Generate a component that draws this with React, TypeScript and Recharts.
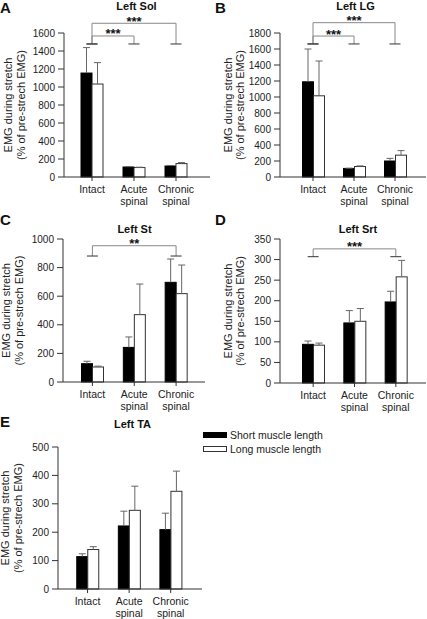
import React from "react";
import { BarChart, Bar, XAxis, YAxis, ReferenceLine, Label, Legend } from "recharts";

const FONT = "'Liberation Sans', Arial, sans-serif";

const categories = ["Intact", "Acute spinal", "Chronic spinal"];
const seriesOrder = ["short", "long"];

// Left Sol
const solShort = [1155, 111, 122];
const solShortSem = [283, 4, 6];
const solLong = [1033, 105, 149];
const solLongSem = [238, 4, 11];
const solTicks = [0, 200, 400, 600, 800, 1000, 1200, 1400, 1600];

// Left LG
const lgShort = [1190, 107, 200];
const lgShortSem = [410, 3, 33];
const lgLong = [1015, 131, 273];
const lgLongSem = [435, 8, 57];
const lgTicks = [0, 200, 400, 600, 800, 1000, 1200, 1400, 1600, 1800];

// Left St
const stShort = [128, 242, 697];
const stShortSem = [17, 73, 163];
const stLong = [105, 471, 618];
const stLongSem = [6, 214, 200];
const stTicks = [0, 200, 400, 600, 800, 1000];

// Left Srt
const srtShort = [94, 146, 197];
const srtShortSem = [8, 30, 26];
const srtLong = [92, 150, 258];
const srtLongSem = [5, 31, 40];
const srtTicks = [0, 50, 100, 150, 200, 250, 300, 350];

// Left TA
const taShort = [114, 222, 209];
const taShortSem = [10, 52, 58];
const taLong = [139, 277, 344];
const taLongSem = [10, 85, 71];
const taTicks = [0, 100, 200, 300, 400, 500];

type Bracket = { from: string; to: string; top: number; end: number; mark: string };

const solBrackets: Bracket[] = [
  { from: "Intact", to: "Chronic spinal", top: 1708, end: 1478, mark: "***" },
  { from: "Intact", to: "Acute spinal", top: 1567, end: 1478, mark: "***" },
];
const lgBrackets: Bracket[] = [
  { from: "Intact", to: "Chronic spinal", top: 1929, end: 1663, mark: "***" },
  { from: "Intact", to: "Acute spinal", top: 1762, end: 1663, mark: "***" },
];
const stBrackets: Bracket[] = [
  { from: "Intact", to: "Chronic spinal", top: 953, end: 881, mark: "**" },
];
const srtBrackets: Bracket[] = [
  { from: "Intact", to: "Chronic spinal", top: 326, end: 307, mark: "***" },
];

const barWithErr = (semKey: string) => (props: any) => {
  const { x, y, width, height, fill, payload, value } = props;
  const v = Array.isArray(value) ? value[1] : value;
  const k = v ? height / v : 0;
  const top = y - payload[semKey] * k;
  const cx = x + width / 2;
  return (
    <g>
      <rect x={x} y={y} width={width} height={height} fill={fill} stroke={fill === "#000" ? "#000" : "#333"} strokeWidth={1} />
      <line x1={cx} y1={y} x2={cx} y2={top} stroke="#666" />
      <line x1={cx - 3.5} y1={top} x2={cx + 3.5} y2={top} stroke="#666" />
    </g>
  );
};

const XTick = (props: any) => {
  const { x, y, payload } = props;
  const parts = String(payload.value).split(" ");
  return (
    <text x={x} y={y} textAnchor="middle" fontSize={10.5} fill="#222" fontFamily={FONT}>
      {parts.map((p, i) => (
        <tspan key={i} x={x} dy={i === 0 ? 11.5 : 12.5}>
          {p}
        </tspan>
      ))}
    </text>
  );
};

type PanelProps = {
  short: number[];
  shortSem: number[];
  long: number[];
  longSem: number[];
  yMax: number;
  ticks: number[];
  brackets: Bracket[];
  width: number;
  height: number;
  axisX: number;
  axisEnd: number;
  plotTop: number;
  plotBottom: number;
  padL: number;
  padR: number;
  lx: [number, number];
  legend?: boolean;
};

function Panel(p: PanelProps) {
  const data = categories.map((c, i) => ({
    cat: c,
    short: p.short[i],
    shortSem: p.shortSem[i],
    long: p.long[i],
    longSem: p.longSem[i],
  }));
  const cy = (p.plotTop + p.plotBottom) / 2;
  return (
    <BarChart
      width={p.width}
      height={p.height}
      data={data}
      barGap={0}
      barSize={11}
      margin={{ top: p.plotTop, right: p.width - p.axisEnd, bottom: 0, left: 0 }}
    >
      <XAxis
        dataKey="cat"
        interval={0}
        height={p.height - p.plotBottom}
        padding={{ left: p.padL, right: p.padR }}
        tick={<XTick />}
        tickSize={4}
        tickMargin={0}
        axisLine={{ stroke: "#333" }}
        tickLine={{ stroke: "#333" }}
      />
      <YAxis
        width={p.axisX}
        domain={[0, p.yMax]}
        ticks={p.ticks}
        interval={0}
        tickSize={6}
        tickMargin={3}
        tick={{ fontSize: 10, fill: "#222", fontFamily: FONT }}
        axisLine={{ stroke: "#333" }}
        tickLine={{ stroke: "#333" }}
      >
        <Label
          content={() => (
            <g fontFamily={FONT} fontSize={11} fill="#222">
              <text x={p.lx[0]} y={cy} transform={`rotate(-90 ${p.lx[0]} ${cy})`} textAnchor="middle" dominantBaseline="central">
                EMG during stretch
              </text>
              <text x={p.lx[1]} y={cy} transform={`rotate(-90 ${p.lx[1]} ${cy})`} textAnchor="middle" dominantBaseline="central">
                (% of pre-strech EMG)
              </text>
            </g>
          )}
        />
      </YAxis>
      <Bar dataKey="short" name="Short muscle length" fill="#000" shape={barWithErr("shortSem")} isAnimationActive={false} />
      <Bar dataKey="long" name="Long muscle length" fill="#fff" shape={barWithErr("longSem")} isAnimationActive={false} />
      {p.brackets.flatMap((b, i) => [
        <ReferenceLine
          key={`h${i}`}
          ifOverflow="visible"
          segment={[
            { x: b.from, y: b.top },
            { x: b.to, y: b.top },
          ]}
          shape={(s: any) => (
            <g>
              <line x1={s.x1} y1={s.y1} x2={s.x2} y2={s.y2} stroke="#888" />
              <text x={(s.x1 + s.x2) / 2} y={s.y1 + 2.5} textAnchor="middle" fontSize={13} fontWeight="bold" fontFamily={FONT} fill="#111">
                {b.mark}
              </text>
            </g>
          )}
        />,
        ...[b.from, b.to].map((c, j) => (
          <ReferenceLine
            key={`v${i}${j}`}
            ifOverflow="visible"
            segment={[
              { x: c, y: b.top },
              { x: c, y: b.end },
            ]}
            shape={(s: any) => {
              const yb = Math.max(s.y1, s.y2);
              return (
                <g>
                  <line x1={s.x1} y1={s.y1} x2={s.x2} y2={s.y2} stroke="#888" />
                  <line x1={s.x1 - 5.5} y1={yb} x2={s.x1 + 5.5} y2={yb} stroke="#333" />
                </g>
              );
            }}
          />
        )),
      ])}
      {p.legend && (
        <Legend
          layout="vertical"
          align="center"
          verticalAlign="middle"
          wrapperStyle={{ left: 203, top: 29, width: 200, height: 30 }}
          content={(lp: any) => {
            const items = [...(lp.payload || [])].sort(
              (a: any, b: any) => seriesOrder.indexOf(a.dataKey) - seriesOrder.indexOf(b.dataKey)
            );
            return (
              <svg width={200} height={30}>
                {items.map((e: any, i: number) => (
                  <g key={i}>
                    <rect
                      x={0.5}
                      y={3.5 + i * 14}
                      width={23}
                      height={5}
                      fill={e.color}
                      stroke={e.color === "#000" ? "#000" : "#333"}
                    />
                    <text x={27} y={9.5 + i * 14} fontSize={10.5} fill="#222" fontFamily={FONT}>
                      {e.value}
                    </text>
                  </g>
                ))}
              </svg>
            );
          }}
        />
      )}
    </BarChart>
  );
}

const titles = [
  { t: "Left Sol", x: 136.5, y: 9.5 },
  { t: "Left LG", x: 355.5, y: 9.5 },
  { t: "Left St", x: 134.5, y: 233 },
  { t: "Left Srt", x: 358, y: 233 },
  { t: "Left TA", x: 132.5, y: 428 },
];
const letters = [
  { t: "A", x: 0, y: 13 },
  { t: "B", x: 215, y: 13 },
  { t: "C", x: 0, y: 225 },
  { t: "D", x: 215, y: 225 },
  { t: "E", x: 0, y: 427 },
];

export default function App() {
  const box = (left: number, top: number): React.CSSProperties => ({ position: "absolute", left, top });
  return (
    <div style={{ position: "absolute", left: 0, top: 0, width: 427, height: 619, background: "#fff", fontFamily: FONT }}>
      <div style={box(0, 0)}>
        <Panel short={solShort} shortSem={solShortSem} long={solLong} longSem={solLongSem} yMax={1600} ticks={solTicks}
          brackets={solBrackets} width={213} height={215} axisX={64} axisEnd={210} plotTop={33} plotBottom={177}
          padL={7} padR={13} lx={[8, 20.5]} />
      </div>
      <div style={box(213, 0)}>
        <Panel short={lgShort} shortSem={lgShortSem} long={lgLong} longSem={lgLongSem} yMax={1800} ticks={lgTicks}
          brackets={lgBrackets} width={214} height={215} axisX={67} axisEnd={213} plotTop={33} plotBottom={177}
          padL={12.5} padR={10.5} lx={[15, 27]} />
      </div>
      <div style={box(0, 200)}>
        <Panel short={stShort} shortSem={stShortSem} long={stLong} longSem={stLongSem} yMax={1000} ticks={stTicks}
          brackets={stBrackets} width={213} height={215} axisX={63} axisEnd={205} plotTop={39} plotBottom={182}
          padL={8.5} padR={8} lx={[6, 19]} />
      </div>
      <div style={box(213, 200)}>
        <Panel short={srtShort} shortSem={srtShortSem} long={srtLong} longSem={srtLongSem} yMax={350} ticks={srtTicks}
          brackets={srtBrackets} width={214} height={215} axisX={67} axisEnd={213} plotTop={39} plotBottom={183}
          padL={12.5} padR={9.5} lx={[15, 27]} />
      </div>
      <div style={box(0, 400)}>
        <Panel short={taShort} shortSem={taShortSem} long={taLong} longSem={taLongSem} yMax={500} ticks={taTicks}
          brackets={[]} width={427} height={219} axisX={58} axisEnd={202} plotTop={47} plotBottom={189}
          padL={8.75} padR={10.5} lx={[5, 17.5]} legend />
      </div>
      <svg width={427} height={619} style={{ position: "absolute", left: 0, top: 0, pointerEvents: "none" }}>
        {titles.map((t) => (
          <text key={t.t} x={t.x} y={t.y} textAnchor="middle" fontSize={11} fontWeight="bold" fill="#111" fontFamily={FONT}>
            {t.t}
          </text>
        ))}
        {letters.map((l) => (
          <text key={l.t} x={l.x} y={l.y} fontSize={15} fontWeight="bold" fill="#111" fontFamily={FONT}>
            {l.t}
          </text>
        ))}
      </svg>
    </div>
  );
}
